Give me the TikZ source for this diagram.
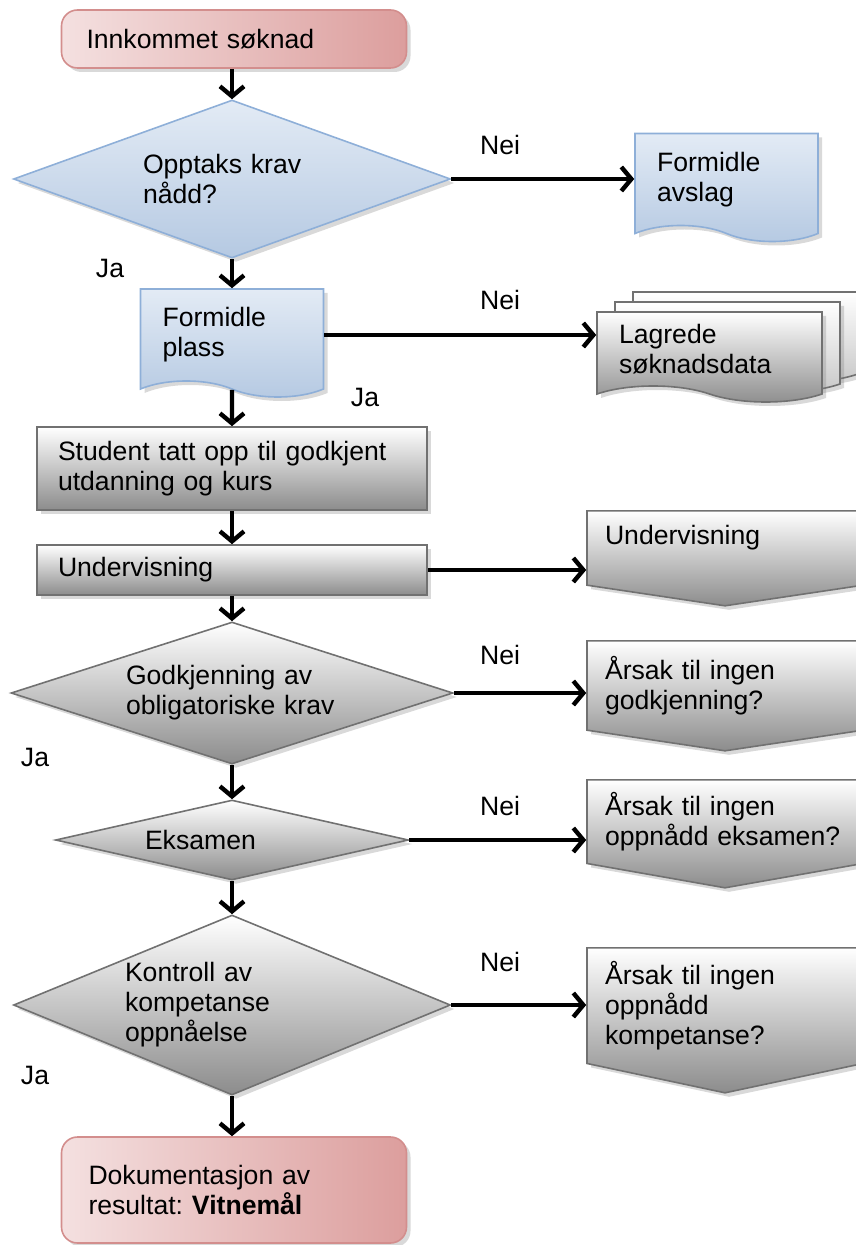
\documentclass[tikz,border=0pt]{standalone}
\usepackage{fontspec}
\setmainfont{Liberation Sans}
\usetikzlibrary{shapes.geometric,shapes.symbols,shadows,arrows.meta}
\frenchspacing

\definecolor{redlight}{HTML}{F4E0E0}
\definecolor{reddark}{HTML}{DC9E9D}
\definecolor{redline}{HTML}{D38E8D}
\definecolor{bluetop}{HTML}{E3EBF5}
\definecolor{bluebot}{HTML}{B5C9E2}
\definecolor{blueline}{HTML}{8EAFD8}
\definecolor{graybot}{HTML}{8C8C8C}
\definecolor{grayline}{HTML}{717171}

\tikzset{
    softshadow/.style={drop shadow={shadow xshift=2pt,shadow yshift=-2pt,opacity=.3}},
    startbox/.style={rectangle, rounded corners=8pt, draw=redline, line width=.8pt,
        left color=redlight, right color=reddark, align=left,
        inner xsep=12.5pt, text width=147.5pt, minimum height=29pt, softshadow},
    graybox/.style={rectangle, draw=grayline, line width=.8pt, top color=white,
        bottom color=graybot, align=left, inner xsep=10.5pt, text width=174pt, softshadow},
    decision/.style={diamond, draw=grayline, line width=.8pt, top color=white,
        bottom color=graybot, align=left, inner sep=0pt, softshadow},
    bluedecision/.style={decision, draw=blueline, top color=bluetop, bottom color=bluebot},
    bluedoc/.style={tape, tape bend top=none, tape bend bottom=out and in, tape bend height=8pt,
        draw=blueline, line width=.8pt, top color=bluetop, bottom color=bluebot, align=left,
        inner xsep=11pt, text width=69.5pt, minimum height=54pt, softshadow},
    graydoc/.style={bluedoc, draw=grayline, top color=white, bottom color=graybot,
        text width=90.5pt, minimum height=45pt},
    offpage/.style={signal, signal to=south, draw=grayline, line width=.8pt, top color=white,
        bottom color=graybot, align=left, inner xsep=9pt, text width=120pt,
        anchor=north, softshadow},
    flow/.style={line width=2.2pt, -{Straight Barb[length=5pt,width=12pt]}}
}

\begin{document}
\begin{tikzpicture}[x=0.5pt,y=-0.5pt,font=\fontsize{13.3}{15}\selectfont]
    \useasboundingbox (0,0) rectangle (855,1245);

    % main column
    \node[startbox] (innkommet) at (234,39) {Innkommet søknad};
    \node[bluedecision, minimum width=218.5pt, minimum height=79pt, aspect=2.77,
        text width=89pt] (krav) at (232,179) {Opptaks krav\\nådd?};
    \node[bluedoc] (plass) at (232,335) {Formidle\\plass};
    \node[graybox, minimum height=41.5pt] (student) at (232,468.5)
        {Student tatt opp til godkjent\\utdanning og kurs};
    \node[graybox, minimum height=25pt] (underv) at (232,570) {Undervisning};
    \node[decision, minimum width=221pt, minimum height=71pt, aspect=3.11,
        text width=106pt] (godkj) at (232,693) {Godkjenning av\\obligatoriske krav};
    \node[decision, minimum width=176.5pt, minimum height=40pt, aspect=4.41,
        text width=87pt] (eksamen) at (232,840) {Eksamen};
    \node[decision, minimum width=218.5pt, minimum height=90pt, aspect=2.43,
        text width=107pt] (kontroll) at (232,1005) {Kontroll av\\kompetanse\\oppnåelse};
    \node[startbox, minimum height=53pt, inner xsep=13.5pt, text width=145.5pt]
        (vitnemal) at (234,1190) {Dokumentasjon av\\resultat: \textbf{Vitnemål}};

    % right column
    \node[bluedoc] (avslag) at (726.5,179.5) {Formidle\\avslag};
    \node[graydoc, bottom color=black!22] (lagC) at (745.5,329) {};
    \node[graydoc, bottom color=black!22] (lagB) at (727.5,339) {};
    \node[graydoc] (lagret) at (709.5,349) {Lagrede\\søknadsdata};
    \node[offpage, minimum height=47.5pt, signal pointer angle=163, text depth=12.8pt]
        (op1) at (725,510) {Undervisning};
    \node[offpage, minimum height=55pt, signal pointer angle=163] (op2) at (725,640)
        {Årsak til ingen\\godkjenning?};
    \node[offpage, minimum height=54pt, signal pointer angle=160] (op3) at (725,779)
        {Årsak til ingen\\oppnådd eksamen?};
    \node[offpage, minimum height=72.5pt, signal pointer angle=156] (op4) at (725,947)
        {Årsak til ingen\\oppnådd\\kompetanse?};

    % ja / nei
    \node (nei1) at (500,145) {Nei};
    \node (ja1) at (110,268) {Ja};
    \node (nei2) at (500,300) {Nei};
    \node (ja2) at (365,397) {Ja};
    \node (nei3) at (500,655) {Nei};
    \node (ja3) at (35,757) {Ja};
    \node (nei4) at (500,806) {Nei};
    \node (nei5) at (500,962) {Nei};
    \node (ja4) at (35,1075) {Ja};

    % arrows
    \draw[flow] (innkommet.south -| krav.north) -- (krav.north);
    \draw[flow] (krav) -- (plass);
    \draw[flow] (plass) -- (student);
    \draw[flow] (student) -- (underv);
    \draw[flow] (underv) -- (godkj);
    \draw[flow] (godkj) -- (eksamen);
    \draw[flow] (eksamen) -- (kontroll);
    \draw[flow] (kontroll.south) -- (kontroll.south |- vitnemal.north);
    \draw[flow] (krav.east) -- (krav.east -| avslag.west);
    \draw[flow] (plass.east) -- (plass.east -| lagret.west);
    \draw[flow] (underv.east) -- (underv.east -| op1.west);
    \draw[flow] (godkj.east) -- (godkj.east -| op2.west);
    \draw[flow] (eksamen.east) -- (eksamen.east -| op3.west);
    \draw[flow] (kontroll.east) -- (kontroll.east -| op4.west);
\end{tikzpicture}
\end{document}
